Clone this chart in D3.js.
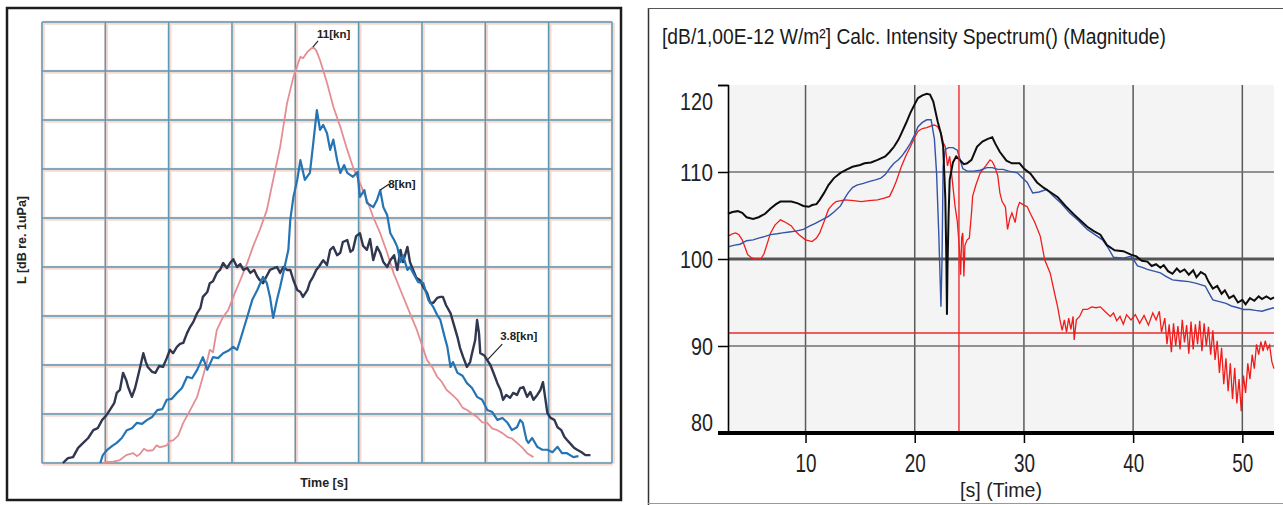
<!DOCTYPE html>
<html>
<head>
<meta charset="utf-8">
<script src="https://cdn.jsdelivr.net/npm/d3@7"></script>
<style>
  body { margin: 0; background: #fff; }
  svg { display: block; }
</style>
</head>
<body>
<svg id="chart" width="1283" height="505"></svg>
<script>
// ---------- Left panel: underwater noise level vs. time for three ship speeds ----------
// [time, level] in grid units (no numeric ticks are printed on this panel)
const kn11 = [
  [9.6,0],[10.3,0.2],[11.2,0.3],[12.3,0.6],[13.3,1.6],[14.4,2.0],[15.0,1.4],[15.5,1.9],[16.1,2.9],[16.6,2.5],
  [17.5,2.6],[18.1,3.6],[18.6,3.2],[19.7,3.6],[20.2,4.5],[20.7,4.6],[21.5,5.6],[22.3,8.2],[23.4,10.8],[24.5,13.5],
  [25.4,17.6],[26.0,20.4],[26.5,23.1],[27.0,22.6],[27.6,27.1],[28.6,29.8],[29.4,31.2],[30.2,33.9],[31.3,37.3],[32.4,40.8],
  [33.3,44.1],[34.4,47.6],[35.5,51.6],[36.5,57.8],[37.6,64.5],[38.7,73.5],[39.7,78.8],[40.8,82.9],[41.2,82.6],[41.9,83.9],
  [42.8,84.9],[43.3,84.2],[43.9,82.2],[45.0,77.6],[46.0,72.7],[47.1,68.6],[48.2,63.9],[49.1,60.4],[50.2,57.1],[51.3,53.7],
  [52.3,50.2],[53.4,46.9],[54.5,42.9],[55.5,38.8],[56.6,35.3],[57.7,31.8],[59.2,27.1],[60.8,21.0],[61.6,19.6],[62.4,17.6],
  [63.1,16.6],[63.9,14.9],[64.7,14.0],[65.6,12.9],[66.4,11.3],[67.1,10.8],[68.0,10.0],[68.7,9.4],[69.5,8.3],[70.3,8.2],
  [71.1,7.0],[71.9,6.7],[72.7,6.1],[73.5,5.3],[74.2,5.0],[75.0,4.1],[75.8,3.2],[76.6,2.0],[77.6,1.2]
];
const kn8 = [
  [9.2,0],[9.6,1.6],[10.3,2.7],[11.1,3.5],[11.8,4.1],[12.6,5.1],[13.4,6.7],[14.2,7.1],[15.0,8.2],[15.8,8.0],
  [16.6,8.8],[17.4,9.4],[18.2,10.8],[19.0,11.0],[19.7,12.9],[20.5,13.1],[21.3,14.3],[22.1,15.3],[22.9,17.6],[23.7,17.3],
  [24.5,19.0],[25.4,21.6],[26.1,19.0],[27.0,21.6],[27.8,21.4],[28.6,22.4],[29.4,22.9],[30.2,23.7],[30.8,23.1],[31.3,25.1],
  [32.4,29.8],[33.2,33.3],[34.0,35.3],[34.9,38.0],[35.5,36.7],[36.0,33.9],[36.5,29.6],[37.1,33.3],[37.6,35.9],[38.2,39.4],
  [38.9,43.5],[39.2,49.6],[39.7,54.3],[40.3,57.8],[40.8,61.8],[41.5,57.8],[42.3,59.2],[42.8,64.9],[43.4,72.0],[43.9,68.0],
  [44.4,69.0],[45.0,67.3],[45.5,63.9],[46.0,66.0],[46.6,61.8],[47.1,59.2],[47.7,60.8],[48.2,59.2],[49.1,58.4],[49.8,59.4],
  [50.2,54.3],[50.9,55.7],[51.3,53.1],[52.3,52.2],[52.9,53.7],[53.4,55.7],[53.9,52.2],[54.5,50.6],[55.0,46.9],[55.6,45.5],
  [56.1,44.1],[56.6,41.0],[57.0,42.4],[57.7,39.4],[58.1,40.0],[58.6,38.8],[59.4,36.9],[60.2,36.7],[61.0,33.3],[61.8,31.8],
  [62.4,30.2],[62.9,29.2],[63.5,26.1],[64.0,23.7],[64.5,19.6],[64.9,20.6],[65.6,18.4],[66.4,17.8],[67.1,16.3],[67.9,15.3],
  [68.7,13.5],[69.5,12.9],[70.3,10.8],[71.1,10.4],[71.9,8.8],[72.7,9.2],[73.5,8.2],[74.2,6.7],[75.0,7.3],[75.5,8.8],
  [75.9,8.2],[76.5,4.7],[76.8,4.1],[77.4,5.1],[78.2,3.3],[79.0,2.7],[79.8,2.7],[80.6,2.2],[81.4,3.3],[82.1,2.0],
  [82.9,2.0],[83.9,1.2],[84.7,1.4]
];
const kn38 = [
  [3.3,0],[4.1,1.0],[4.9,1.2],[5.7,3.1],[6.5,4.1],[7.3,5.1],[8.1,6.7],[8.8,7.1],[9.5,8.8],[10.1,9.6],
  [10.7,10.8],[11.4,12.2],[11.8,14.3],[12.3,14.9],[12.8,18.4],[13.3,16.9],[13.6,15.5],[14.2,13.5],[14.7,15.3],[15.0,16.9],
  [15.5,19.6],[16.0,22.4],[16.4,20.6],[16.7,19.6],[17.4,18.6],[17.9,18.4],[18.5,19.8],[19.1,19.6],[19.7,21.4],[20.2,23.1],
  [20.7,22.4],[21.3,23.7],[21.8,24.3],[22.3,24.5],[22.9,26.5],[23.4,27.8],[23.9,28.8],[24.5,30.6],[25.0,31.6],[25.4,33.9],
  [26.1,34.9],[26.5,36.7],[27.0,37.1],[27.6,38.8],[28.1,39.4],[28.6,40.8],[29.2,39.8],[29.7,40.8],[30.2,41.6],[30.8,40.0],
  [31.3,40.6],[31.8,39.4],[32.4,39.8],[32.9,38.8],[33.5,39.4],[34.0,38.0],[34.4,37.3],[34.9,36.7],[35.5,38.2],[36.0,39.4],
  [36.7,39.8],[37.1,40.0],[37.6,38.8],[38.1,40.0],[38.7,39.4],[39.2,39.4],[39.7,37.3],[40.3,35.3],[40.8,34.9],[41.2,33.9],
  [41.9,35.3],[42.3,36.9],[42.8,38.0],[43.3,39.4],[43.8,40.2],[44.4,41.4],[45.0,40.4],[45.5,43.5],[46.0,44.1],[46.6,42.4],
  [47.1,42.9],[47.5,45.1],[48.2,45.5],[48.7,43.1],[49.1,43.5],[49.6,46.3],[50.2,46.9],[50.7,44.3],[51.3,43.5],[51.8,45.7],
  [52.3,41.4],[52.9,44.1],[53.4,42.9],[53.9,41.0],[54.5,40.0],[55.0,41.4],[55.6,42.4],[56.1,39.4],[56.6,43.5],[57.0,41.0],
  [57.7,44.1],[58.1,41.0],[58.6,39.4],[59.1,37.8],[59.7,37.3],[60.2,35.9],[60.8,34.7],[61.3,32.7],[61.8,32.7],[62.4,33.7],
  [62.9,33.9],[63.3,33.9],[63.8,32.2],[64.5,30.6],[64.9,28.8],[65.6,25.7],[66.0,23.5],[66.5,21.6],[67.1,19.6],[67.6,20.6],
  [67.9,22.4],[68.4,25.1],[68.7,29.2],[69.0,26.5],[69.2,22.4],[69.8,22.0],[70.3,21.0],[70.8,20.0],[71.4,18.0],[71.9,16.3],
  [72.4,14.9],[72.8,12.9],[73.3,13.9],[73.9,13.3],[74.4,14.3],[75.0,13.9],[75.5,15.3],[76.0,15.5],[76.6,13.5],[77.1,14.5],
  [77.6,12.9],[78.2,13.9],[78.7,14.9],[79.1,16.5],[79.8,10.2],[80.3,9.2],[80.9,8.8],[81.4,7.3],[82.0,6.7],[82.5,5.3],
  [82.9,4.7],[83.6,3.7],[84.0,3.1],[84.5,2.7],[85.2,2.2],[85.8,1.6],[86.6,1.6]
];
const leftGrid = [0, 10, 20, 30, 40, 50, 60, 70, 80, 90];
const leftLabels = ["11[kn]", "8[kn]", "3.8[kn]"];
// times at which each speed label points to its curve
const labelTimes = [42.8, 53.4, 70.3];

// ---------- Right panel: calculated intensity spectrum magnitude vs. time ----------
const xTicksR = [10, 20, 30, 40, 50];
const yTicksR = [80, 90, 100, 110, 120];
const cursorTime = 24.05;
const cursorLevel = 91.5;
const blackTrace = [
  [2.9,105.2],[3.3,105.4],[3.8,105.5],[4.2,105.3],[4.6,104.8],[5.2,104.6],[5.7,104.8],[6.3,105.2],[6.8,105.8],[7.3,106.3],
  [7.7,106.6],[8.7,106.6],[9.3,106.4],[9.8,106.1],[10.3,106.0],[10.6,106.2],[11.0,106.3],[11.3,106.8],[11.7,107.6],[12.1,108.5],
  [12.6,109.3],[13.2,109.9],[13.8,110.3],[14.3,110.6],[15.0,110.8],[15.4,111.0],[16.0,111.1],[16.6,111.4],[17.3,111.8],[17.7,112.3],
  [18.1,112.9],[18.5,113.7],[18.8,114.5],[19.2,115.6],[19.6,116.8],[20.0,117.8],[20.3,118.5],[20.7,118.8],[21.1,119.0],[21.4,118.9],
  [21.7,118.1],[22.1,115.8],[22.4,114.4],[22.6,113.0],[22.8,107.0],[22.9,99.6],[22.95,93.6],[23.0,99.0],[23.1,105.0],[23.2,109.1],
  [23.5,111.1],[23.8,111.8],[24.1,111.4],[24.5,110.9],[24.8,111.0],[25.2,111.4],[25.7,112.9],[26.2,113.5],[26.7,113.8],[27.1,114.0],
  [27.4,113.2],[27.8,112.3],[28.4,111.3],[28.9,111.0],[29.6,111.0],[30.0,110.4],[30.6,109.8],[31.2,108.8],[31.8,108.2],[32.4,107.7],
  [33.1,107.1],[33.8,106.1],[34.6,105.1],[35.2,104.4],[35.8,103.7],[36.4,103.2],[37.0,102.8],[37.6,101.6],[38.3,101.0],[39.1,100.9],
  [39.8,100.5],[40.3,100.3],[40.8,99.8],[41.3,99.7],[41.7,99.2],[42.1,99.4],[42.5,99.0],[42.8,99.3],[43.2,98.6],[43.6,98.3],
  [44.0,98.9],[44.3,98.5],[44.7,98.8],[45.1,98.2],[45.5,98.7],[45.8,97.9],[46.2,98.5],[46.6,98.2],[46.9,97.4],[47.3,96.6],
  [47.7,96.9],[48.1,96.0],[48.4,96.4],[48.8,95.5],[49.2,95.8],[49.6,95.0],[50.0,95.3],[50.3,94.8],[50.7,95.5],[51.1,95.2],
  [51.5,95.7],[51.8,95.4],[52.2,95.7],[52.6,95.4],[52.9,95.6]
];
const blueTrace = [
  [2.9,101.4],[3.5,101.6],[4.0,101.7],[4.6,102.1],[5.2,102.2],[5.7,102.4],[6.3,102.6],[6.8,102.8],[7.4,102.9],[7.9,103.0],
  [8.5,103.1],[9.1,103.2],[9.8,103.4],[10.4,103.8],[10.9,104.1],[11.5,104.5],[12.1,104.9],[12.6,105.4],[13.2,106.1],[13.6,107.0],
  [13.9,107.6],[14.3,108.2],[14.7,108.5],[15.3,108.7],[15.8,108.9],[16.4,109.1],[16.9,109.3],[17.3,109.7],[17.7,110.4],[18.1,111.0],
  [18.5,111.4],[18.8,111.8],[19.2,112.5],[19.6,113.3],[20.0,114.3],[20.3,115.2],[20.7,115.7],[21.1,116.0],[21.5,116.0],[21.8,113.8],
  [22.0,109.9],[22.2,103.0],[22.4,94.5],[22.5,100.0],[22.6,110.6],[22.8,112.6],[23.1,112.8],[23.5,112.8],[23.9,112.5],[24.4,110.4],
  [24.8,110.1],[25.4,110.1],[26.0,110.2],[26.6,110.5],[27.1,110.5],[27.6,110.3],[28.1,110.3],[28.6,110.1],[29.4,109.9],[29.8,109.4],
  [30.3,108.8],[30.8,107.6],[31.4,107.7],[32.1,108.0],[32.7,107.2],[33.4,106.4],[34.2,105.3],[35.0,104.4],[35.8,103.4],[36.5,102.8],
  [37.2,102.2],[37.7,101.3],[38.2,100.2],[39.1,100.1],[39.8,100.3],[40.1,99.8],[40.4,99.2],[40.9,99.0],[41.3,98.8],[41.9,98.6],
  [42.5,98.4],[43.0,98.0],[43.6,97.6],[44.3,97.5],[45.1,97.4],[45.8,97.2],[46.6,96.9],[46.9,96.2],[47.3,95.3],[47.9,95.1],
  [48.5,94.9],[49.0,94.6],[49.6,94.4],[50.1,94.2],[50.7,94.2],[51.2,94.1],[51.8,94.0],[52.3,94.2],[52.9,94.4]
];
const redTrace = [
  [2.9,102.6],[3.3,102.9],[3.6,103.0],[3.9,102.8],[4.2,102.2],[4.5,101.2],[4.7,100.5],[5.0,100.2],[5.3,100.0],[5.9,100.0],
  [6.2,100.6],[6.5,101.8],[6.8,103.0],[7.2,103.9],[7.7,104.5],[8.2,104.2],[8.7,103.8],[9.0,103.3],[9.4,102.8],[10.0,102.2],
  [10.6,102.0],[11.0,102.4],[11.3,103.0],[11.7,104.3],[12.1,105.7],[12.5,106.3],[12.8,106.6],[13.6,106.8],[14.4,106.7],[15.1,106.6],
  [15.8,106.7],[16.6,106.8],[17.2,107.0],[17.7,107.2],[18.0,108.0],[18.3,108.9],[18.8,110.7],[19.2,111.9],[19.6,112.9],[20.0,114.0],
  [20.3,114.7],[20.7,115.0],[21.1,115.1],[21.5,115.3],[21.8,115.4],[22.1,115.2],[22.4,114.5],[22.6,113.4],[22.8,112.9],[23.0,110.7],
  [23.2,111.8],[23.4,109.5],[23.7,106.0],[23.9,104.3],[24.1,101.0],[24.2,98.2],[24.3,102.5],[24.4,103.0],[24.5,98.0],[24.6,101.6],
  [24.8,102.2],[25.0,102.4],[25.2,105.3],[25.3,107.2],[25.6,108.5],[26.0,109.9],[26.5,110.7],[26.9,111.4],[27.1,111.2],[27.3,110.7],
  [27.6,109.6],[27.8,107.6],[28.0,106.6],[28.3,106.0],[28.5,103.4],[28.7,104.6],[28.9,105.3],[29.2,104.2],[29.4,105.8],[29.6,106.5],
  [30.0,106.2],[30.3,106.0],[30.6,105.2],[31.0,104.2],[31.5,102.6],[31.9,99.9],[32.4,98.4],[32.8,96.1],[33.1,94.4],[33.3,93.0],
  [33.5,91.8],[33.7,93.0],[33.9,91.6],[34.1,93.2],[34.3,91.9],[34.5,93.4],[34.6,90.7],[34.8,93.0],[35.1,93.4],[35.4,94.2],
  [35.8,94.2],[36.2,94.5],[36.6,94.4],[37.0,94.5],[37.4,94.0],[37.9,93.4],[38.2,93.8],[38.5,92.9],[38.8,93.4],[39.1,92.5],
  [39.4,93.6],[39.8,93.0],[40.2,93.6],[40.6,92.6],[41.0,93.5],[41.4,92.4],[41.8,93.8],[42.1,93.0],[42.4,94.0],[42.6,91.6],
  [42.9,93.2],[43.1,90.2],[43.3,92.5],[43.5,89.3],[43.7,92.6],[43.9,90.0],[44.1,92.3],[44.3,89.6],[44.5,93.0],[44.7,90.4],
  [44.9,92.4],[45.1,89.1],[45.3,92.8],[45.5,89.6],[45.7,92.5],[45.9,90.2],[46.1,92.9],[46.3,89.4],[46.5,92.6],[46.7,90.0],
  [46.9,92.2],[47.1,89.0],[47.3,91.8],[47.5,88.4],[47.7,90.6],[47.9,86.9],[48.1,89.8],[48.3,85.6],[48.5,88.6],[48.7,84.8],
  [48.9,88.0],[49.1,83.9],[49.3,87.5],[49.5,83.4],[49.7,86.2],[49.9,82.5],[50.1,86.6],[50.3,84.6],[50.5,88.0],[50.7,86.2],
  [50.9,89.0],[51.1,87.4],[51.3,90.2],[51.5,89.0],[51.7,90.5],[51.9,89.4],[52.1,90.6],[52.3,89.6],[52.5,90.1],[52.7,88.2],
  [52.9,87.4]
];

const svg = d3.select("#chart");
const FONT = "Liberation Sans, Arial, sans-serif";

// ===================== LEFT PANEL =====================
const L = svg.append("g");
L.append("rect").attr("x", 7).attr("y", 8).attr("width", 614).attr("height", 492)
  .attr("fill", "#fff").attr("stroke", "#1d1d1d").attr("stroke-width", 2.5);

const xL = d3.scaleLinear().domain([0, 90]).range([42, 612]);
const yL = d3.scaleLinear().domain([0, 90]).range([463, 22]);

// grid: soft pink fringe under a teal line
function leftGridLayer(color, width, shift) {
  const g = L.append("g").attr("transform", `translate(${shift},${shift})`);
  g.selectAll(".v").data(leftGrid).join("line")
    .attr("x1", d => xL(d)).attr("x2", d => xL(d))
    .attr("y1", yL(90)).attr("y2", yL(0))
    .attr("stroke", color).attr("stroke-width", width);
  g.selectAll(".h").data(leftGrid).join("line")
    .attr("x1", xL(0)).attr("x2", xL(90))
    .attr("y1", d => yL(d)).attr("y2", d => yL(d))
    .attr("stroke", color).attr("stroke-width", width);
}
leftGridLayer("#f8d8d0", 4, 0.8);
leftGridLayer("#5b9ab4", 1.5, 0);

const lineL = d3.line().x(d => xL(d[0])).y(d => yL(d[1]));
const leftSeries = [
  { data: kn11, color: "#e48e94", width: 1.8 },
  { data: kn38, color: "#30374f", width: 2.4 },
  { data: kn8,  color: "#2574b4", width: 2.2 }
];
L.selectAll(".series").data(leftSeries).join("path")
  .attr("d", d => lineL(d.data))
  .attr("fill", "none").attr("stroke", d => d.color).attr("stroke-width", d => d.width)
  .attr("stroke-linejoin", "round");

// speed annotations with short leader lines
const annotations = [
  { text: leftLabels[0], series: kn11, t: labelTimes[0], lx: 5, ly: -6, tx: 4, ty: -9 },
  { text: leftLabels[1], series: kn8,  t: labelTimes[1], lx: 9, ly: -6, tx: 8, ty: -2 },
  { text: leftLabels[2], series: kn38, t: labelTimes[2], lx: 15, ly: -16, tx: 13, ty: -20 }
];
annotations.forEach(a => {
  const pt = a.series.find(d => d[0] === a.t);
  const px = xL(pt[0]), py = yL(pt[1]);
  L.append("line").attr("x1", px).attr("y1", py).attr("x2", px + a.lx).attr("y2", py + a.ly)
    .attr("stroke", "#222").attr("stroke-width", 1.2);
  L.append("text").attr("x", px + a.tx).attr("y", py + a.ty)
    .attr("font-family", FONT).attr("font-weight", "bold")
    .attr("font-size", 11.5).attr("fill", "#222").text(a.text);
});

L.append("text").attr("x", 324).attr("y", 487).attr("text-anchor", "middle")
  .attr("font-family", FONT).attr("font-weight", "bold")
  .attr("font-size", 12.5).attr("fill", "#222").text("Time [s]");
L.append("text").attr("transform", "translate(26,240) rotate(-90)").attr("text-anchor", "middle")
  .attr("font-family", FONT).attr("font-weight", "bold")
  .attr("font-size", 12.5).attr("fill", "#222").text("L [dB re. 1uPa]");

// ===================== RIGHT PANEL =====================
const R = svg.append("g");
R.append("line").attr("x1", 648.5).attr("x2", 648.5).attr("y1", 8).attr("y2", 505)
  .attr("stroke", "#333").attr("stroke-width", 1.5);
R.append("line").attr("x1", 648).attr("x2", 1283).attr("y1", 8.5).attr("y2", 8.5)
  .attr("stroke", "#555").attr("stroke-width", 1);
R.append("line").attr("x1", 648).attr("x2", 1283).attr("y1", 503.5).attr("y2", 503.5)
  .attr("stroke", "#999").attr("stroke-width", 1);

R.append("text").attr("x", 662).attr("y", 44)
  .attr("font-family", FONT).attr("font-size", 22.5)
  .attr("fill", "#1a1a1a").attr("textLength", 504).attr("lengthAdjust", "spacingAndGlyphs")
  .text("[dB/1,00E-12 W/m²] Calc. Intensity Spectrum() (Magnitude)");

const xR = d3.scaleLinear().domain([2.9, 52.9]).range([728, 1274]);
const yR = d3.scaleLinear().domain([80, 120]).range([433, 85]);

R.append("rect").attr("x", xR(2.9)).attr("y", yR(120))
  .attr("width", xR(52.9) - xR(2.9)).attr("height", yR(80) - yR(120)).attr("fill", "#f3f4f3");

// vertical grid
R.selectAll(".vg").data(xTicksR).join("line")
  .attr("x1", d => xR(d)).attr("x2", d => xR(d)).attr("y1", yR(120)).attr("y2", yR(80))
  .attr("stroke", "#5a5a5a").attr("stroke-width", 1.5);
// horizontal grid
R.selectAll(".hg").data([90, 100, 110]).join("line")
  .attr("x1", xR(2.9)).attr("x2", xR(52.9)).attr("y1", d => yR(d)).attr("y2", d => yR(d))
  .attr("stroke", d => d === 100 ? "#555" : "#707070").attr("stroke-width", d => d === 100 ? 3 : 1.5);

// horizontal cursor
R.append("line").attr("x1", xR(2.9)).attr("x2", xR(52.9)).attr("y1", yR(cursorLevel)).attr("y2", yR(cursorLevel))
  .attr("stroke", "#ee2a2a").attr("stroke-width", 1.4);

const lineR = d3.line().x(d => xR(d[0])).y(d => yR(d[1]));
const rightSeries = [
  { data: redTrace, color: "#f01c1c", width: 1.3 },
  { data: blueTrace, color: "#3553a8", width: 1.4 },
  { data: blackTrace, color: "#0d0d0d", width: 2 }
];
R.selectAll(".trace").data(rightSeries).join("path")
  .attr("d", d => lineR(d.data))
  .attr("fill", "none").attr("stroke", d => d.color).attr("stroke-width", d => d.width)
  .attr("stroke-linejoin", "miter");

// vertical cursor
R.append("line").attr("x1", xR(cursorTime)).attr("x2", xR(cursorTime)).attr("y1", yR(120)).attr("y2", yR(80))
  .attr("stroke", "#ee2a2a").attr("stroke-width", 1.4);

// axes
const yAxis = d3.axisLeft(yR).tickValues(yTicksR).tickSize(10).tickFormat(d3.format("d"));
const gy = R.append("g").attr("transform", `translate(${xR(2.9)},0)`).call(yAxis);
gy.select(".domain").attr("stroke", "#000").attr("stroke-width", 1.6);
gy.selectAll(".tick line").attr("stroke", "#000").attr("stroke-width", 1.5);
gy.selectAll(".tick text")
  .attr("font-family", FONT).attr("font-size", 23).attr("fill", "#222")
  .attr("x", -15)
  .attr("dy", d => d === 120 ? "1.05em" : d === 80 ? "-0.1em" : "0.36em")
  .attr("textLength", d => String(d).length * 11).attr("lengthAdjust", "spacingAndGlyphs");

const xAxis = d3.axisBottom(xR).tickValues(xTicksR).tickSize(10).tickFormat(d3.format("d"));
const gx = R.append("g").attr("transform", `translate(0,${yR(80)})`).call(xAxis);
gx.select(".domain").remove();
gx.selectAll(".tick line").attr("stroke", "#000").attr("stroke-width", 1.5);
gx.selectAll(".tick text")
  .attr("font-family", FONT).attr("font-size", 26).attr("fill", "#222")
  .attr("y", 21)
  .attr("textLength", d => String(d).length * 10.5).attr("lengthAdjust", "spacingAndGlyphs");
R.append("line").attr("x1", xR(2.9) - 10).attr("x2", xR(52.9)).attr("y1", yR(80)).attr("y2", yR(80))
  .attr("stroke", "#000").attr("stroke-width", 4);

R.append("text").attr("x", 1001).attr("y", 497).attr("text-anchor", "middle")
  .attr("font-family", FONT).attr("font-size", 21).attr("fill", "#222")
  .attr("textLength", 82).attr("lengthAdjust", "spacingAndGlyphs").text("[s] (Time)");
</script>
</body>
</html>
